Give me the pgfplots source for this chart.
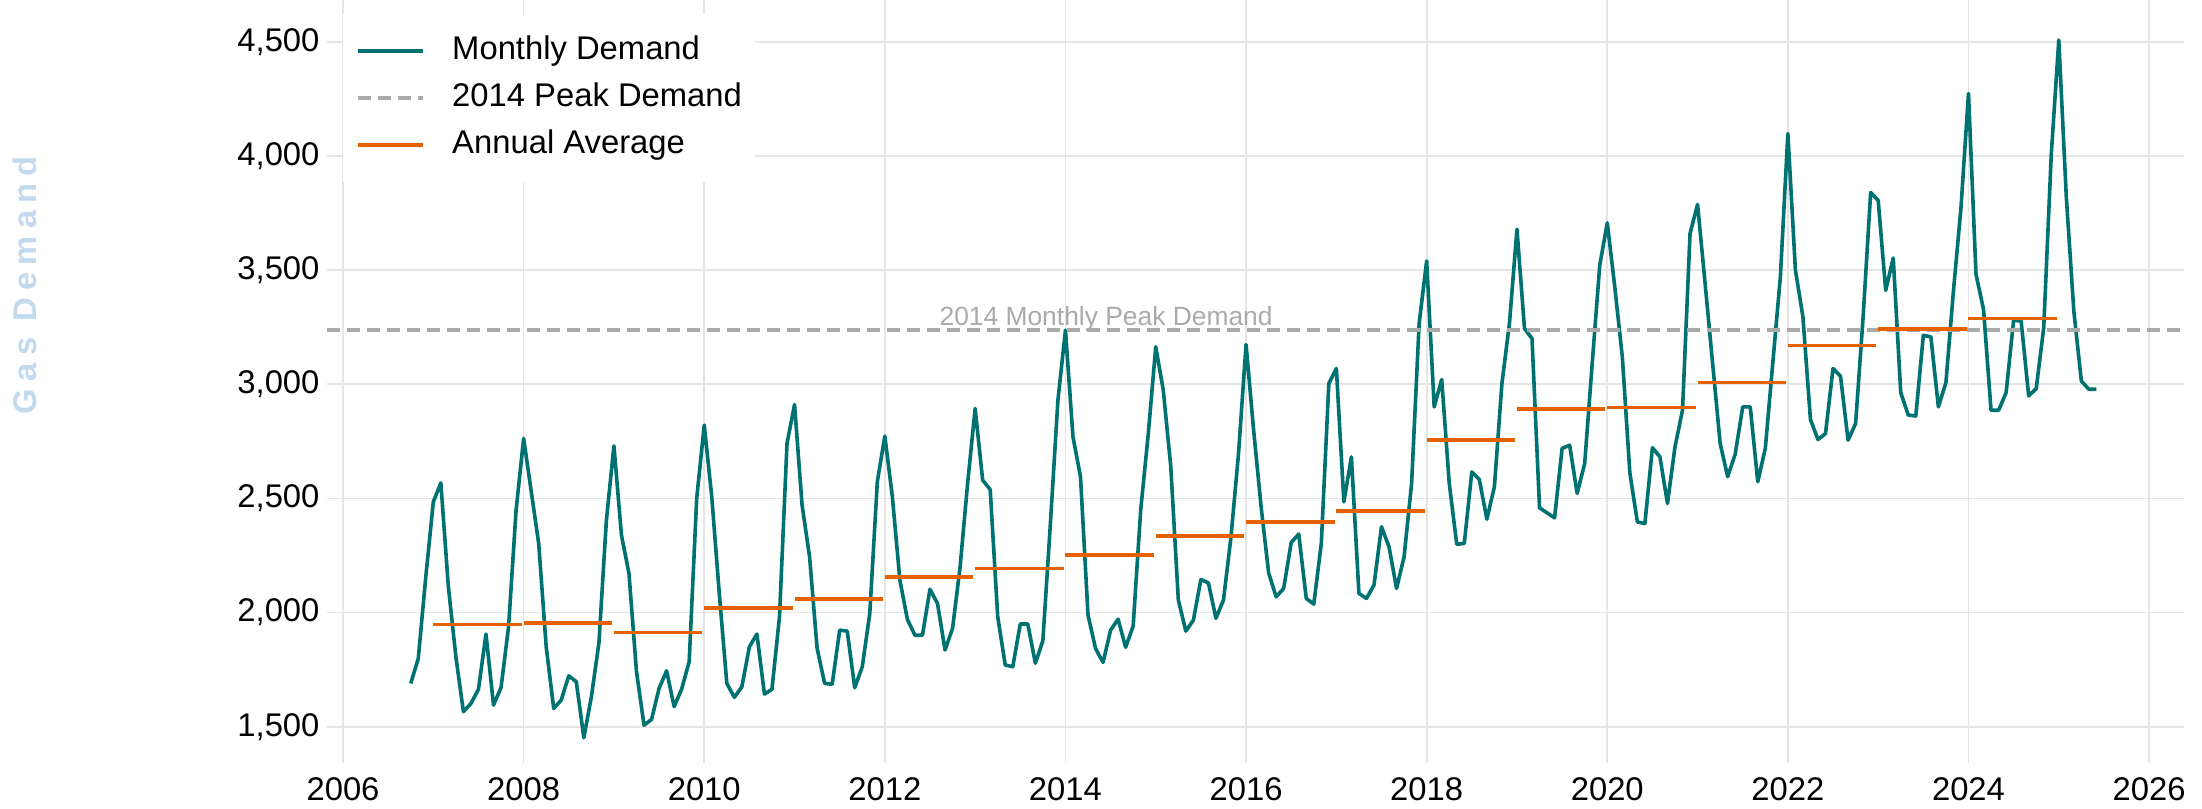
\documentclass[border=0pt]{standalone}
\usepackage{fontspec}
\setmainfont{Liberation Sans}
\newfontfamily\spaced[LetterSpace=22]{Liberation Sans}
\usepackage{pgfplots}
\usepackage{pgfplotstable}
\pgfplotsset{compat=1.18}

\definecolor{demandteal}{HTML}{007272}
\definecolor{avgorange}{HTML}{E66100}
\definecolor{peakgray}{HTML}{AAAAAA}
\definecolor{gridgray}{HTML}{E5E5E5}
\definecolor{labelblue}{HTML}{C3DAEE}

% monthly demand
\pgfplotstableread{
yr mo v
2006 10 1690
2006 11 1799
2006 12 2157
2007 1 2485
2007 2 2568
2007 3 2113
2007 4 1806
2007 5 1566
2007 6 1602
2007 7 1664
2007 8 1906
2007 9 1595
2007 10 1672
2007 11 1938
2007 12 2449
2008 1 2763
2008 2 2533
2008 3 2303
2008 4 1850
2008 5 1580
2008 6 1617
2008 7 1723
2008 8 1697
2008 9 1452
2008 10 1631
2008 11 1865
2008 12 2405
2009 1 2730
2009 2 2339
2009 3 2171
2009 4 1741
2009 5 1507
2009 6 1532
2009 7 1668
2009 8 1745
2009 9 1588
2009 10 1665
2009 11 1785
2009 12 2500
2010 1 2821
2010 2 2507
2010 3 2084
2010 4 1690
2010 5 1629
2010 6 1675
2010 7 1850
2010 8 1906
2010 9 1643
2010 10 1664
2010 11 1982
2010 12 2741
2011 1 2911
2011 2 2471
2011 3 2244
2011 4 1843
2011 5 1690
2011 6 1686
2011 7 1923
2011 8 1919
2011 9 1671
2011 10 1763
2011 11 1996
2011 12 2573
2012 1 2773
2012 2 2507
2012 3 2142
2012 4 1970
2012 5 1901
2012 6 1901
2012 7 2102
2012 8 2040
2012 9 1836
2012 10 1931
2012 11 2200
2012 12 2566
2013 1 2894
2013 2 2580
2013 3 2539
2013 4 1982
2013 5 1770
2013 6 1763
2013 7 1950
2013 8 1950
2013 9 1778
2013 10 1877
2013 11 2390
2013 12 2930
2014 1 3237
2014 2 2770
2014 3 2595
2014 4 1989
2014 5 1843
2014 6 1782
2014 7 1923
2014 8 1971
2014 9 1848
2014 10 1941
2014 11 2449
2014 12 2780
2015 1 3164
2015 2 2974
2015 3 2638
2015 4 2055
2015 5 1919
2015 6 1967
2015 7 2145
2015 8 2130
2015 9 1975
2015 10 2055
2015 11 2332
2015 12 2697
2016 1 3174
2016 2 2800
2016 3 2463
2016 4 2174
2016 5 2069
2016 6 2106
2016 7 2307
2016 8 2344
2016 9 2062
2016 10 2037
2016 11 2303
2016 12 3003
2017 1 3069
2017 2 2485
2017 3 2682
2017 4 2084
2017 5 2062
2017 6 2120
2017 7 2376
2017 8 2288
2017 9 2106
2017 10 2244
2017 11 2566
2017 12 3266
2018 1 3540
2018 2 2901
2018 3 3021
2018 4 2566
2018 5 2299
2018 6 2303
2018 7 2616
2018 8 2583
2018 9 2409
2018 10 2551
2018 11 3003
2018 12 3266
2019 1 3679
2019 2 3244
2019 3 3200
2019 4 2459
2019 5 2437
2019 6 2415
2019 7 2719
2019 8 2733
2019 9 2522
2019 10 2653
2019 11 3091
2019 12 3521
2020 1 3707
2020 2 3426
2020 3 3120
2020 4 2612
2020 5 2397
2020 6 2390
2020 7 2722
2020 8 2682
2020 9 2478
2020 10 2726
2020 11 2887
2020 12 3660
2021 1 3788
2021 2 3441
2021 3 3091
2021 4 2741
2021 5 2595
2021 6 2694
2021 7 2901
2021 8 2901
2021 9 2573
2021 10 2719
2021 11 3095
2021 12 3470
2022 1 4098
2022 2 3500
2022 3 3295
2022 4 2846
2022 5 2758
2022 6 2784
2022 7 3069
2022 8 3035
2022 9 2755
2022 10 2828
2022 11 3295
2022 12 3840
2023 1 3805
2023 2 3411
2023 3 3553
2023 4 2963
2023 5 2865
2023 6 2861
2023 7 3214
2023 8 3208
2023 9 2901
2023 10 3007
2023 11 3408
2023 12 3772
2024 1 4274
2024 2 3481
2024 3 3328
2024 4 2886
2024 5 2886
2024 6 2963
2024 7 3280
2024 8 3277
2024 9 2949
2024 10 2981
2024 11 3247
2024 12 4005
2025 1 4508
2025 2 3820
2025 3 3320
2025 4 3014
2025 5 2978
2025 6 2978
}\monthly

% annual averages, one segment per year (nan breaks the line)
\pgfplotstableread{
x y
2007 1948
2007.98 1948
2007.99 nan
2008 1953
2008.98 1953
2008.99 nan
2009 1913
2009.98 1913
2009.99 nan
2010 2021
2010.98 2021
2010.99 nan
2011 2060
2011.98 2060
2011.99 nan
2012 2155
2012.98 2155
2012.99 nan
2013 2193
2013.98 2193
2013.99 nan
2014 2252
2014.98 2252
2014.99 nan
2015 2335
2015.98 2335
2015.99 nan
2016 2398
2016.98 2398
2016.99 nan
2017 2446
2017.98 2446
2017.99 nan
2018 2755
2018.98 2755
2018.99 nan
2019 2891
2019.98 2891
2019.99 nan
2020 2898
2020.98 2898
2020.99 nan
2021 3008
2021.98 3008
2021.99 nan
2022 3170
2022.98 3170
2022.99 nan
2023 3243
2023.98 3243
2023.99 nan
2024 3288
2024.98 3288
}\annual

\begin{document}
\begin{tikzpicture}
\useasboundingbox (-117.7pt,-16.2pt) rectangle (675pt,274.7pt);
\begin{axis}[
  at={(0,0)}, anchor=south west,
  scale only axis,
  width=668.5pt, height=274.7pt,
  xmin=2005.822, xmax=2026.386,
  ymin=1341, ymax=4683,
  xtick={2006,2008,...,2026},
  ytick={1500,2000,...,4500},
  grid=major,
  major grid style={draw=gridgray, line width=0.6pt},
  axis line style={draw=none},
  major tick length=0pt,
  /pgf/number format/assume math mode=true,
  every tick label/.append style={font=\fontsize{11.8}{14}\selectfont, text=black},
  x tick label style={/pgf/number format/1000 sep={}, yshift=-1.6pt},
  y tick label style={/pgf/number format/1000 sep={,}, inner xsep=0pt, xshift=-2.5pt},
  unbounded coords=jump,
  legend image code/.code={\draw[#1] (0pt,0pt) -- (23.4pt,0pt);},
  legend style={
    at={(0.0086,0.983)}, anchor=north west,
    fill=white, draw=none,
    font=\fontsize{11.8}{14}\selectfont,
    inner xsep=4.7pt, inner ysep=5pt,
    column sep=9.7pt,
    nodes={inner xsep=0pt, inner ysep=2.95pt, text height=8.5pt, text depth=2.5pt},
    cells={anchor=west},
  },
]
\addplot[demandteal, line width=1.3pt, mark=none, line join=round]
  table[x expr={\thisrow{yr}+(\thisrow{mo}-1)/12}, y=v] {\monthly};
\addlegendentry{Monthly Demand}

\addplot[peakgray, line width=1.3pt, dash pattern=on 4.6pt off 2.6pt, mark=none]
  coordinates {(2005.822,3237) (2026.386,3237)};
\addlegendentry{2014 Peak Demand}

\addplot[avgorange, line width=1.35pt, mark=none] table[x=x, y=y] {\annual};
\addlegendentry{Annual Average}

\node[anchor=base, text=peakgray, font=\fontsize{9.5}{11}\selectfont]
  at (axis cs:2014.45,3259) {2014 Monthly Peak Demand};
\end{axis}
\node[rotate=90, text=labelblue, font=\spaced\bfseries\fontsize{11.8}{14}\selectfont]
  at (-108.7pt,172.1pt) {Gas Demand};
\end{tikzpicture}
\end{document}
